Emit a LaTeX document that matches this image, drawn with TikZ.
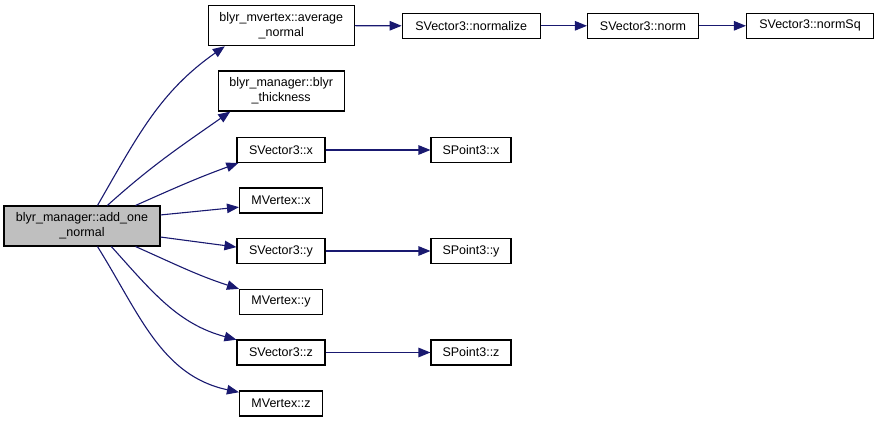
\documentclass[tikz,border=0pt]{standalone}
\usepackage{fontspec}
\setmainfont{Liberation Sans}
\usetikzlibrary{arrows.meta}
\definecolor{edgeblue}{HTML}{191970}
\definecolor{maingray}{HTML}{BFBFBF}
\begin{document}
\begin{tikzpicture}[x=1pt,y=1pt,
  box/.style={draw=black,line width=1.1pt,fill=white,rectangle,inner sep=0pt,align=center,
    font=\fontsize{12.5}{15}\selectfont,minimum height=25pt},
  bigbox/.style={box,minimum height=40pt},
  edge/.style={draw=edgeblue,line width=1.1pt,-{Triangle[length=12pt,width=9.5pt]}}]
\useasboundingbox (0,0) rectangle (879,-422);
\node[bigbox,fill=maingray,minimum width=156pt] (main) at (82,-226) {blyr\_manager::add\_one\\\_normal};
\node[bigbox,minimum width=146pt] (avg) at (281.3,-25.7) {blyr\_mvertex::average\\\_normal};
\node[bigbox,minimum width=126pt] (thick) at (281.2,-91) {blyr\_manager::blyr\\\_thickness};
\node[box,minimum width=138pt] (nrmz) at (471.2,-25.8) {SVector3::normalize};
\node[box,minimum width=111pt] (nrm) at (643,-25.8) {SVector3::norm};
\node[box,minimum width=127pt] (nrmsq) at (810,-25.8) {SVector3::normSq};
\node[box,minimum width=88pt] (svx) at (281,-150) {SVector3::x};
\node[box,minimum width=80pt] (spx) at (471,-150) {SPoint3::x};
\node[box,minimum width=83pt] (mvx) at (281,-200.5) {MVertex::x};
\node[box,minimum width=88pt] (svy) at (281,-251) {SVector3::y};
\node[box,minimum width=80pt] (spy) at (471,-251) {SPoint3::y};
\node[box,minimum width=83pt] (mvy) at (281,-301.7) {MVertex::y};
\node[box,minimum width=88pt] (svz) at (281,-352.5) {SVector3::z};
\node[box,minimum width=80pt] (spz) at (471,-352.5) {SPoint3::z};
\node[box,minimum width=83pt] (mvz) at (281,-403.5) {MVertex::z};
\draw[edge] (main.53) to[out=60,in=215] (avg.200);
\draw[edge] (main.39) to[out=42,in=215] (thick.202);
\draw[edge] (main.21) to[out=24,in=200] (svx.197);
\draw[edge] (main.8) -- (mvx.189);
\draw[edge] (main.352) -- (svy.175);
\draw[edge] (main.-21) to[out=-24,in=162] (mvy.163);
\draw[edge] (main.-35.5) to[out=-48,in=165] (svz.164);
\draw[edge] (main.-53) to[out=-58,in=168] (mvz.165);
\draw[edge] (avg.east) -- (nrmz.west);
\draw[edge] (nrmz.east) -- (nrm.west);
\draw[edge] (nrm.east) -- (nrmsq.west);
\draw[edge] (svx.east) -- (spx.west);
\draw[edge] (svy.east) -- (spy.west);
\draw[edge] (svz.east) -- (spz.west);
\end{tikzpicture}
\end{document}
